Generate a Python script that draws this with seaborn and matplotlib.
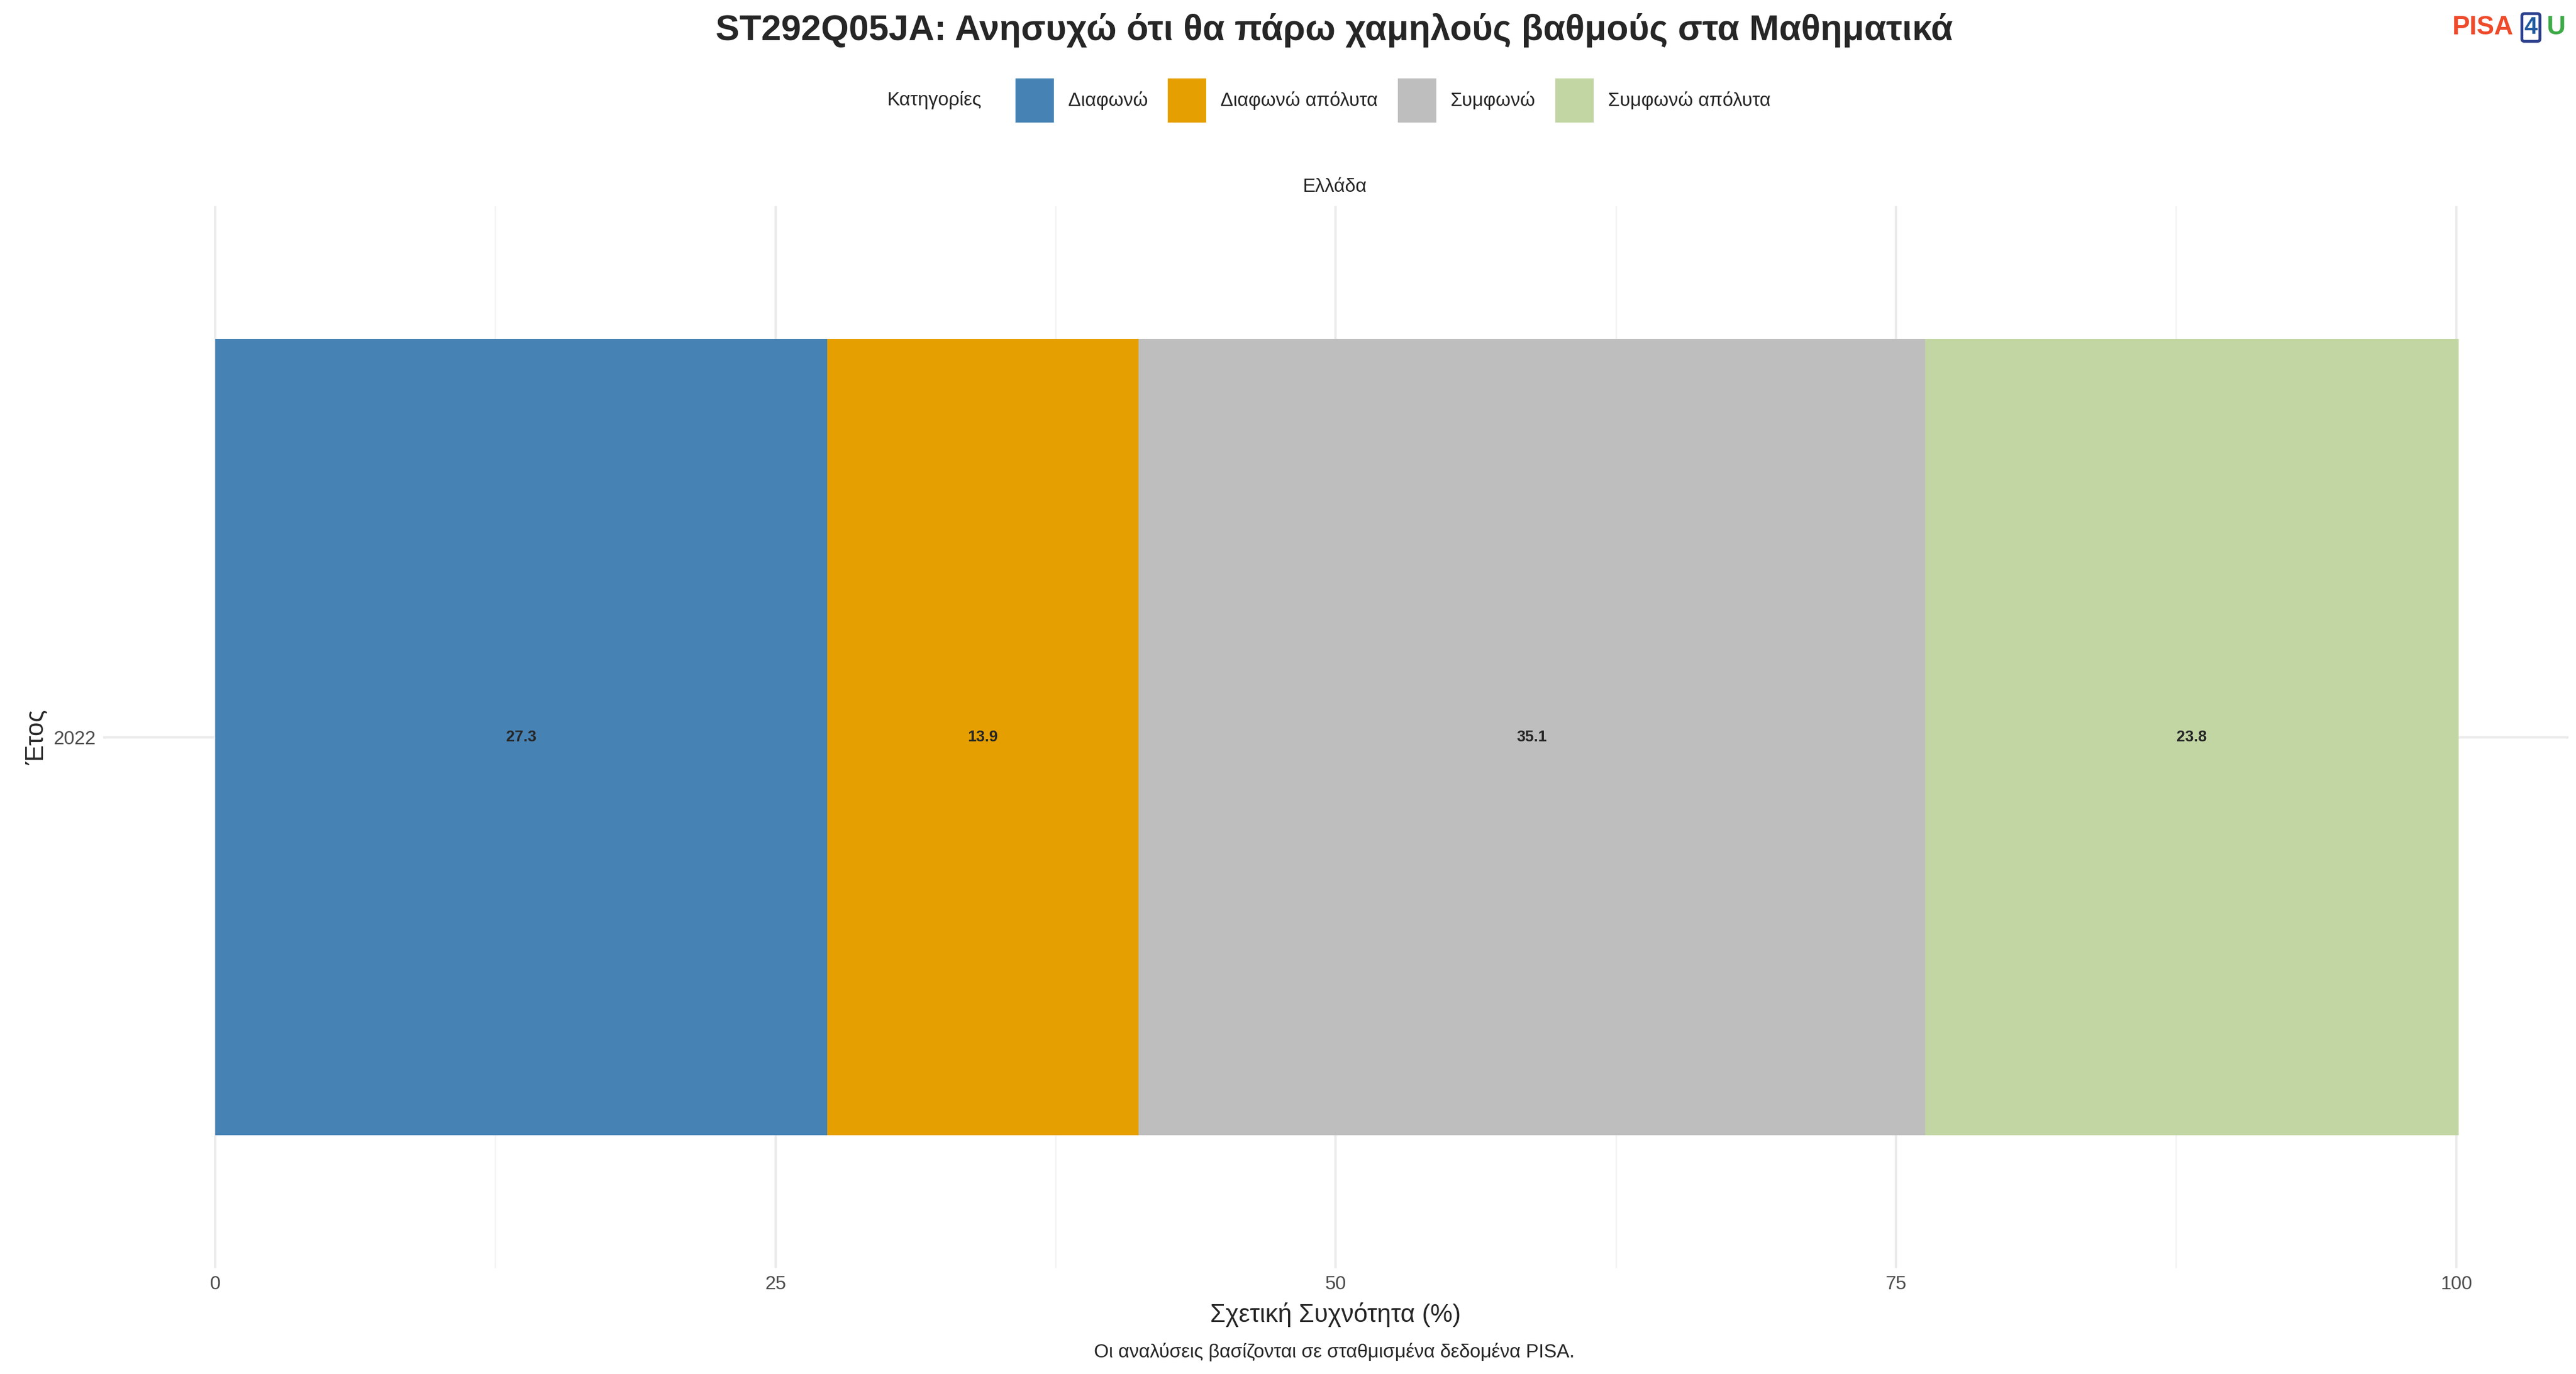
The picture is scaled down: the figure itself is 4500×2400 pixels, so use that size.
import numpy as np
import pandas as pd
import matplotlib.pyplot as plt
import seaborn as sns

years = ["2022"]
categories = ["Διαφωνώ", "Διαφωνώ απόλυτα", "Συμφωνώ", "Συμφωνώ απόλυτα"]
values = [27.3, 13.9, 35.1, 23.8]
colors = ["#4682B4", "#E69F00", "#BEBEBE", "#C2D6A4"]

sns.set_theme(style="whitegrid")
plt.rcParams["font.family"] = ["Liberation Sans", "DejaVu Sans"]

fig = plt.figure(figsize=(15, 8), dpi=300)
ax = fig.add_axes([0.040, 0.077, 0.957, 0.773])

cum = np.cumsum(values)
# draw cumulative bars from the widest back, so each segment shows
for i in range(len(categories) - 1, -1, -1):
    df = pd.DataFrame({"year": years, "v": [cum[i]]})
    sns.barplot(data=df, x="v", y="year", orient="h", color=colors[i],
                width=0.9, saturation=1, linewidth=0, ax=ax, zorder=2)
for i, v in enumerate(values):
    ax.text(cum[i] - v / 2, 0, f"{v:.1f}", ha="center", va="center",
            fontsize=6.5, fontweight="bold", zorder=3)

ax.set_xlim(-5, 105)
ax.set_ylim(0.6, -0.6)
ax.set_xticks([0, 25, 50, 75, 100])
ax.set_xticks([12.5, 37.5, 62.5, 87.5], minor=True)
ax.grid(True, which="major", color="#EBEBEB", lw=1.0)
ax.grid(True, which="minor", axis="x", color="#F3F3F3", lw=0.6)
ax.set_axisbelow(True)
for s in ax.spines.values():
    s.set_visible(False)
ax.tick_params(axis="both", labelsize=8, colors="#4D4D4D", length=0, pad=3)
ax.set_xlabel("Σχετική Συχνότητα (%)", fontsize=10.5, labelpad=4)
ax.set_ylabel("Έτος", fontsize=10.5, labelpad=2)

fig.text(0.518, 0.978, "ST292Q05JA: Ανησυχώ ότι θα πάρω χαμηλούς βαθμούς στα Μαθηματικά",
         ha="center", va="center", fontsize=15, fontweight="bold")
fig.text(0.518, 0.864, "Ελλάδα", ha="center", va="center", fontsize=8)
fig.text(0.518, 0.016, "Οι αναλύσεις βασίζονται σε σταθμισμένα δεδομένα PISA.",
         ha="center", va="center", fontsize=8)

# legend
fig.text(0.381, 0.927, "Κατηγορίες", ha="right", va="center", fontsize=8)
handles = [plt.Rectangle((0, 0), 1, 1, color=c) for c in colors]
fig.legend(handles, categories, loc="center", bbox_to_anchor=(0.541, 0.927),
           ncol=4, frameon=False, fontsize=8, handlelength=1.9, handleheight=3.0,
           handletextpad=0.8, columnspacing=1.1)

# logo
fig.text(0.952, 0.980, "PISA", color="#EE4B2B", fontsize=11, fontweight="bold",
         ha="left", va="center")
fig.text(0.9825, 0.980, "4", color="#1F5AA0", fontsize=10, fontweight="bold",
         ha="center", va="center",
         bbox=dict(boxstyle="round,pad=0.1", fc="white", ec="#2B3F8C", lw=1.2))
fig.text(0.9885, 0.980, "U", color="#3EAA48", fontsize=11, fontweight="bold",
         ha="left", va="center")

fig.savefig("out.png", dpi=300, facecolor="white")
